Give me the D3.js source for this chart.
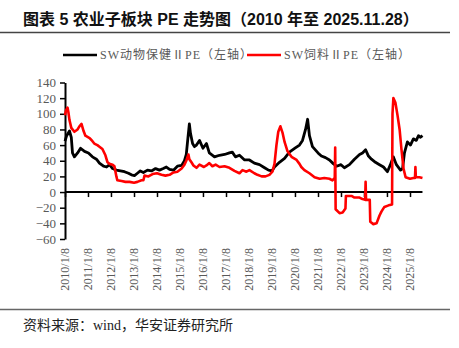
<!DOCTYPE html>
<html><head><meta charset="utf-8">
<script src="https://cdn.jsdelivr.net/npm/d3@7"></script>
<style>
html,body{margin:0;padding:0;background:#fff;}
svg{display:block;}
</style></head>
<body>
<svg id="c" width="459" height="348"></svg>
<script>
const titleText = "图表 5 农业子板块 PE 走势图（2010 年至 2025.11.28）";
const sourceText = "资料来源：wind，华安证券研究所";
const seriesNames = ["SW动物保健ⅡPE（左轴）", "SW饲料ⅡPE（左轴）"];
const yTicks = [-60, -40, -20, 0, 20, 40, 60, 80, 100, 120, 140];
const xTickDates = ["2010-01-08","2011-01-08","2012-01-08","2013-01-08","2014-01-08","2015-01-08","2016-01-08","2017-01-08","2018-01-08","2019-01-08","2020-01-08","2021-01-08","2022-01-08","2023-01-08","2024-01-08","2025-01-08"];
const xTickLabels = ["2010/1/8","2011/1/8","2012/1/8","2013/1/8","2014/1/8","2015/1/8","2016/1/8","2017/1/8","2018/1/8","2019/1/8","2020/1/8","2021/1/8","2022/1/8","2023/1/8","2024/1/8","2025/1/8"];

// SW 动物保健 II PE
const animalDates = ["2010-01-08","2010-02-03","2010-03-20","2010-04-18","2010-05-07","2010-06-06","2010-07-27","2010-09-12","2010-11-14","2011-01-15","2011-03-20","2011-05-22","2011-07-09","2011-09-12","2011-10-30","2011-12-16","2012-02-03","2012-04-03","2012-06-06","2012-08-10","2012-10-12","2012-11-28","2013-01-15","2013-03-03","2013-04-18","2013-06-06","2013-08-10","2013-10-12","2013-12-16","2014-02-17","2014-04-18","2014-06-06","2014-07-27","2014-09-27","2014-11-28","2015-02-03","2015-03-20","2015-04-18","2015-05-15","2015-06-06","2015-06-24","2015-07-27","2015-08-25","2015-09-27","2015-11-14","2016-01-08","2016-03-03","2016-04-18","2016-07-09","2016-09-27","2016-12-16","2017-03-03","2017-04-18","2017-06-06","2017-08-10","2017-10-30","2018-01-15","2018-04-03","2018-06-24","2018-09-12","2018-11-14","2019-01-08","2019-02-17","2019-05-07","2019-07-27","2019-10-12","2020-01-08","2020-03-20","2020-05-07","2020-06-24","2020-07-27","2020-08-25","2020-10-12","2021-01-08","2021-03-03","2021-05-07","2021-07-09","2021-09-12","2021-10-30","2022-01-08","2022-03-03","2022-05-22","2022-08-10","2022-10-30","2022-12-16","2023-02-03","2023-03-20","2023-05-07","2023-07-09","2023-09-12","2023-11-14","2024-01-15","2024-03-03","2024-04-18","2024-06-06","2024-08-10","2024-09-12","2024-10-12","2024-11-28","2025-01-15","2025-03-03","2025-04-18","2025-05-22","2025-06-24","2025-07-25"];
const animalPE = [65,72,78,70,50,45,50,56,52,50,45,42,37,33,32,35,30,28,27,26,24,22,21,24,27,25,28,27,30,28,30,32,29,28,33,34,40,48,70,87,75,62,58,60,66,56,62,50,45,47,48,50,51,45,47,41,41,37,35,31,28,27,32,38,43,51,56,60,66,80,93,72,58,50,46,44,41,36,33,35,31,35,42,48,50,54,46,42,38,35,32,26,35,45,35,28,30,50,64,60,68,66,72,70,72];

// SW 饲料 II PE
const feedDates = ["2010-01-08","2010-01-23","2010-02-17","2010-03-03","2010-03-20","2010-04-18","2010-06-06","2010-07-27","2010-08-25","2010-09-27","2010-10-30","2010-11-28","2011-02-03","2011-03-20","2011-04-18","2011-06-06","2011-07-09","2011-08-25","2011-10-12","2011-11-14","2011-12-16","2012-02-03","2012-03-03","2012-04-03","2012-04-18","2012-06-24","2012-08-25","2012-10-30","2013-01-08","2013-03-03","2013-05-07","2013-06-06","2013-06-24","2013-08-25","2013-10-30","2014-01-08","2014-03-20","2014-05-22","2014-07-27","2014-09-27","2014-11-28","2015-02-03","2015-03-20","2015-04-18","2015-05-22","2015-06-06","2015-07-09","2015-08-10","2015-09-27","2015-11-14","2016-01-23","2016-03-03","2016-04-18","2016-06-06","2016-07-27","2016-09-27","2016-12-16","2017-03-03","2017-05-22","2017-08-10","2017-09-27","2017-11-28","2018-01-15","2018-04-03","2018-05-22","2018-07-27","2018-09-27","2018-11-28","2019-01-15","2019-02-17","2019-03-20","2019-04-18","2019-05-22","2019-06-24","2019-07-27","2019-09-12","2019-11-14","2020-02-03","2020-03-20","2020-04-18","2020-06-06","2020-08-25","2020-11-14","2021-02-03","2021-04-18","2021-07-09","2021-08-25","2021-10-01","2021-10-08","2021-10-15","2021-12-16","2022-02-03","2022-03-20","2022-03-27","2022-06-24","2022-08-10","2022-10-30","2022-12-16","2023-01-27","2023-02-03","2023-02-10","2023-04-10","2023-04-18","2023-06-06","2023-07-27","2023-09-12","2023-10-12","2023-11-28","2024-02-03","2024-03-29","2024-04-05","2024-04-19","2024-05-22","2024-06-24","2024-07-27","2024-08-25","2024-09-27","2024-10-30","2025-01-08","2025-03-03","2025-03-28","2025-04-04","2025-04-11","2025-06-06","2025-07-25"];
const feedPE = [98,104,108,102,92,82,77,80,84,87,78,72,69,65,62,60,58,55,47,38,36,35,33,20,15,14,13,13,12,13,15,15,21,20,23,24,22,21,22,25,26,30,35,40,48,42,38,34,31,35,32,34,37,33,35,32,33,31,27,24,28,26,28,24,22,20,20,22,26,36,60,77,84,76,64,52,45,41,36,32,28,24,19,17,18,17,15,18,57,-22,-27,-26,-21,-5,-5,-7,-7,-9,-10,13,-10,-10,-38,-41,-40,-30,-25,-19,-17,-16,100,120,114,98,80,55,30,19,17,18,18,32,19,19,18];

const parse = d3.timeParse("%Y-%m-%d");
const svg = d3.select("#c");
const x = d3.scaleTime().domain([parse("2010-01-08"), parse("2025-01-08")]).range([65, 410]);
const y = d3.scaleLinear().domain([-60, 140]).range([239, 82.5]);
const labelColor = "#595959";

// title
svg.append("text").attr("x", 23).attr("y", 25)
  .attr("font-family", "'Liberation Sans','Noto Sans CJK SC',sans-serif")
  .attr("font-weight", "bold").attr("font-size", 16).attr("fill", "#111")
  .attr("style", "white-space:pre").attr("xml:space", "preserve")
  .text(titleText);
svg.append("line").attr("x1", 0).attr("x2", 450).attr("y1", 32.5).attr("y2", 32.5)
  .attr("stroke", "#444").attr("stroke-width", 1.5);

// legend
const legendFont = "'Liberation Serif','Noto Sans CJK SC',serif";
const colors = ["#000000", "#ff0000"];
const legX = [63, 247];
seriesNames.forEach((n, i) => {
  svg.append("line").attr("x1", legX[i]).attr("x2", legX[i] + 34).attr("y1", 55).attr("y2", 55)
    .attr("stroke", colors[i]).attr("stroke-width", 2.5);
  svg.append("text").attr("x", legX[i] + 37).attr("y", 59)
    .attr("font-family", legendFont).attr("font-size", 12).attr("letter-spacing", "1px")
    .attr("fill", labelColor).text(n);
});

// y axis
const yAxis = svg.append("g").attr("transform", "translate(65,0)")
  .call(d3.axisLeft(y).tickValues(yTicks).tickSize(5).tickSizeOuter(0).tickPadding(4));
yAxis.select(".domain").attr("stroke", "#000").attr("stroke-width", 2);
yAxis.selectAll(".tick line").attr("stroke", "#000").attr("stroke-width", 1.5);
yAxis.selectAll(".tick text").attr("font-family", "'Liberation Serif',serif").attr("font-size", 13).attr("fill", labelColor);

// x axis at zero
const lastDate = parse(animalDates[animalDates.length - 1]);
const xTicks = xTickDates.map(parse);
const xAxis = svg.append("g").attr("transform", `translate(0,${y(0)})`)
  .call(d3.axisBottom(x).tickValues(xTicks).tickSize(5).tickSizeOuter(0).tickFormat(""));
xAxis.select(".domain").remove();
xAxis.selectAll(".tick line").attr("stroke", "#000").attr("stroke-width", 1.5);
svg.append("line").attr("x1", x(xTicks[0])).attr("x2", x(lastDate)).attr("y1", y(0)).attr("y2", y(0))
  .attr("stroke", "#000").attr("stroke-width", 2);

// x labels at bottom
svg.append("g").selectAll("text").data(xTicks).join("text")
  .attr("transform", (d) => `translate(${x(d)},248) rotate(-90)`)
  .attr("text-anchor", "end").attr("dy", "0.35em")
  .attr("font-family", "'Liberation Serif',serif").attr("font-size", 12).attr("fill", labelColor)
  .text((d, i) => xTickLabels[i]);

// lines
const line = d3.line().x(d => x(d[0])).y(d => y(d[1]));
const feedData = feedDates.map((d, i) => [parse(d), feedPE[i]]);
const animalData = animalDates.map((d, i) => [parse(d), animalPE[i]]);
svg.append("path").datum(animalData).attr("d", line).attr("fill", "none")
  .attr("stroke", colors[0]).attr("stroke-width", 2.8).attr("stroke-linejoin", "round");
svg.append("path").datum(feedData).attr("d", line).attr("fill", "none")
  .attr("stroke", colors[1]).attr("stroke-width", 2.6).attr("stroke-linejoin", "round");

// source
svg.append("line").attr("x1", 0).attr("x2", 450).attr("y1", 309.5).attr("y2", 309.5)
  .attr("stroke", "#666").attr("stroke-width", 1.5);
svg.append("text").attr("x", 23).attr("y", 330)
  .attr("font-family", "'Liberation Serif','Noto Sans CJK SC',serif").attr("font-size", 14).attr("fill", "#222")
  .text(sourceText);
</script>
</body></html>
